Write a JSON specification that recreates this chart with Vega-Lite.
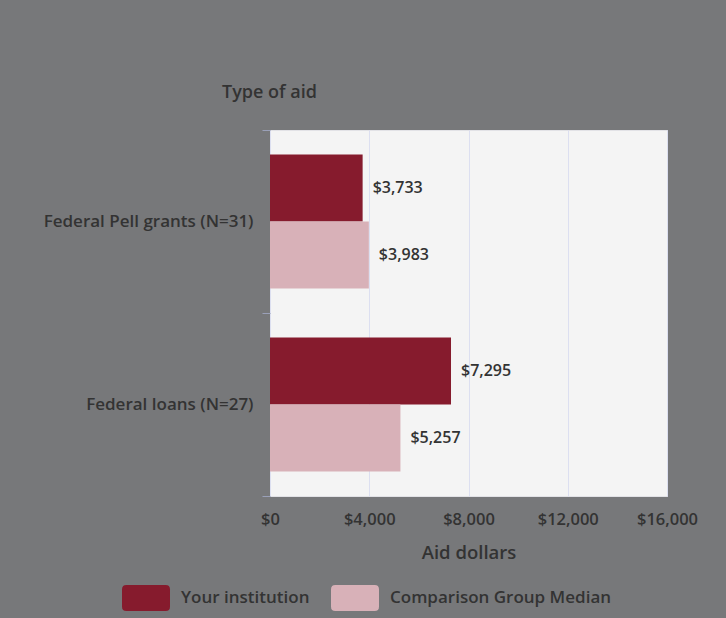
{
  "$schema": "https://vega.github.io/schema/vega-lite/v6.json",
  "width": 397,
  "height": 366,
  "autosize": "none",
  "padding": {"left": 270, "top": 130, "right": 59, "bottom": 122},
  "background": "#77787a",
  "config": {
    "font": "Open Sans",
    "view": {"fill": "#f4f4f4", "stroke": "#e2e2e6", "strokeWidth": 1}
  },
  "data": {
    "values": [
      {"aid": "Federal Pell grants (N=31)", "series": "Your institution", "value": 3733},
      {"aid": "Federal Pell grants (N=31)", "series": "Comparison Group Median", "value": 3983},
      {"aid": "Federal loans (N=27)", "series": "Your institution", "value": 7295},
      {"aid": "Federal loans (N=27)", "series": "Comparison Group Median", "value": 5257}
    ]
  },
  "encoding": {
    "y": {
      "field": "aid",
      "type": "nominal",
      "sort": ["Federal Pell grants (N=31)", "Federal loans (N=27)"],
      "scale": {"paddingInner": 0, "paddingOuter": 0},
      "axis": {
        "title": "Type of aid",
        "titleAngle": 0,
        "titleAlign": "center",
        "titleBaseline": "alphabetic",
        "titleX": -1,
        "titleY": -33,
        "titleFont": "Open Sans",
        "titleFontSize": 18,
        "titleFontWeight": 600,
        "titleColor": "#333333",
        "domain": false,
        "tickBand": "extent",
        "tickSize": 8,
        "tickColor": "#9aa0b8",
        "labelPadding": 9,
        "labelFontSize": 17,
        "labelColor": "#333333",
        "labelFontWeight": 600,
        "labelLimit": 300,
        "grid": false
      }
    },
    "yOffset": {
      "field": "series",
      "type": "nominal",
      "sort": ["Your institution", "Comparison Group Median"],
      "scale": {"paddingInner": 0, "paddingOuter": 0.366}
    },
    "x": {
      "field": "value",
      "type": "quantitative",
      "scale": {"domain": [0, 16000], "nice": false},
      "axis": {
        "title": "Aid dollars",
        "values": [0, 4000, 8000, 12000, 16000],
        "format": "$,.0f",
        "domain": false,
        "ticks": false,
        "labelPadding": 15,
        "labelFontSize": 16.5,
        "labelColor": "#333333",
        "labelFontWeight": 600,
        "labelFlush": false,
        "gridColor": "#dcdff0",
        "gridWidth": 1,
        "titleFontSize": 18.5,
        "titleFontWeight": 600,
        "titleColor": "#333333",
        "titlePadding": 16
      }
    }
  },
  "layer": [
    {
      "mark": {"type": "bar"},
      "encoding": {
        "color": {
          "field": "series",
          "type": "nominal",
          "sort": ["Your institution", "Comparison Group Median"],
          "scale": {
            "domain": ["Your institution", "Comparison Group Median"],
            "range": ["#861b2d", "#d8b1b8"]
          },
          "legend": {
            "title": null,
            "orient": "none",
            "direction": "horizontal",
            "legendX": -148,
            "legendY": 444,
            "symbolType": "M-0.82,-0.54 L0.82,-0.54 Q1,-0.54 1,-0.36 L1,0.36 Q1,0.54 0.82,0.54 L-0.82,0.54 Q-1,0.54 -1,0.36 L-1,-0.36 Q-1,-0.54 -0.82,-0.54 Z",
            "symbolSize": 2304,
            "symbolStrokeWidth": 0,
            "symbolOpacity": 1,
            "labelFontSize": 17,
            "labelColor": "#333333",
            "labelFontWeight": 600,
            "labelOffset": 11,
            "columnPadding": 21,
            "labelLimit": 400
          }
        }
      }
    },
    {
      "mark": {"type": "text", "align": "left", "baseline": "middle", "dx": 10, "fontSize": 16, "fontWeight": 600, "color": "#333333"},
      "encoding": {
        "text": {"field": "value", "type": "quantitative", "format": "$,.0f"}
      }
    }
  ]
}
